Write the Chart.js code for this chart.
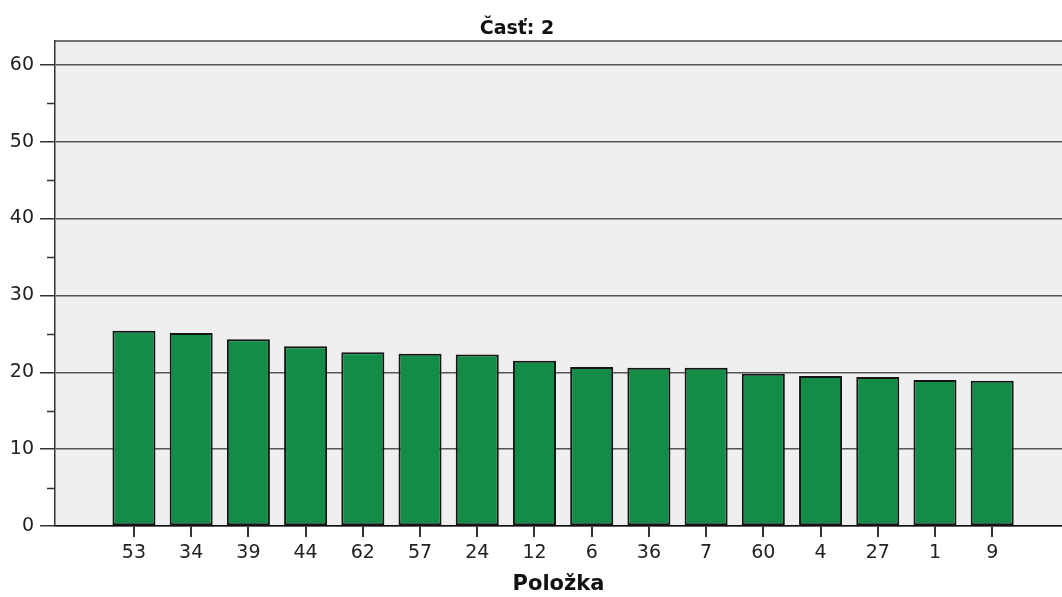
<!DOCTYPE html>
<html>
<head>
<meta charset="utf-8">
<script src="https://cdn.jsdelivr.net/npm/chart.js@4"></script>
<style>
  html, body { margin: 0; padding: 0; background: #fff; overflow: hidden; }
  #wrap { width: 1062px; height: 597px; }
</style>
</head>
<body>
<div id="wrap"><canvas id="castChart"></canvas></div>
<script>
// Údaje z grafu
const polozky = ['53', '34', '39', '44', '62', '57', '24', '12', '6', '36', '7', '60', '4', '27', '1', '9'];
const hodnoty = [25.4, 25.1, 24.3, 23.4, 22.6, 22.4, 22.3, 21.5, 20.7, 20.6, 20.6, 19.8, 19.5, 19.4, 19.0, 18.9];
const yTicky = [0, 10, 20, 30, 40, 50, 60];
const yMensie = [5, 15, 25, 35, 45, 55];

const ctx = document.getElementById('castChart').getContext('2d');

// pozadie a rámik plochy grafu, vedľajšie značky na osi y, nadpis
const plochaPlugin = {
    id: 'plocha',
    beforeDraw(chart) {
        const a = chart.chartArea;
        const c = chart.ctx;
        c.save();
        c.fillStyle = '#efefef';
        c.fillRect(a.left, a.top, a.right - a.left, a.bottom - a.top);
        c.restore();
    },
    afterDraw(chart) {
        const a = chart.chartArea;
        const c = chart.ctx;
        const y = chart.scales.y;
        c.save();
        c.strokeStyle = '#444';
        c.lineWidth = 1.5;
        c.beginPath();
        c.moveTo(a.left, a.top);
        c.lineTo(a.right, a.top);
        c.stroke();
        c.strokeStyle = '#333';
        yMensie.forEach(v => {
            const py = Math.round(y.getPixelForValue(v)) + 0.5;
            c.beginPath();
            c.moveTo(a.left - 8, py);
            c.lineTo(a.left, py);
            c.stroke();
        });
        // nadpis
        c.fillStyle = '#111';
        c.font = 'bold 19px "DejaVu Sans"';
        c.textAlign = 'center';
        c.textBaseline = 'alphabetic';
        c.fillText('Časť: 2', 517, 34);
        c.restore();
    }
};

new Chart(ctx, {
    type: 'bar',
    data: {
        datasets: [{
            data: hodnoty.map((v, i) => ({ x: i, y: v })),
            backgroundColor: '#128c47',
            borderColor: '#151515',
            borderWidth: 2,
            borderSkipped: false,
            categoryPercentage: 0.8,
            barPercentage: 0.94
        }]
    },
    options: {
        responsive: true,
        maintainAspectRatio: false,
        animation: false,
        layout: { padding: { top: 41, right: 0, left: 0, bottom: 0 } },
        plugins: {
            legend: { display: false },
            tooltip: { enabled: false },
            title: { display: false }
        },
        scales: {
            x: {
                type: 'linear',
                min: -1.38,
                max: 16.22,
                offset: false,
                afterBuildTicks: scale => {
                    scale.ticks = polozky.map((p, i) => ({ value: i }));
                },
                afterFit: scale => { scale.height = 71; },
                grid: {
                    offset: false,
                    drawOnChartArea: false,
                    drawTicks: true,
                    tickLength: 11,
                    tickColor: '#333',
                    lineWidth: 2
                },
                border: { color: '#111', width: 1.5 },
                ticks: {
                    autoSkip: false,
                    maxRotation: 0,
                    padding: 5,
                    color: '#222',
                    font: { family: 'DejaVu Sans', size: 19 },
                    callback: v => polozky[v] ?? ''
                },
                title: {
                    display: true,
                    text: 'Položka',
                    color: '#111',
                    font: { family: 'DejaVu Sans', size: 21, weight: 'bold' },
                    padding: { top: 6, bottom: 0 }
                }
            },
            y: {
                min: 0,
                max: 63.1,
                afterFit: scale => { scale.width = 55; },
                afterBuildTicks: scale => {
                    scale.ticks = yTicky.map(v => ({ value: v }));
                },
                grid: {
                    color: '#555',
                    lineWidth: 1.5,
                    tickLength: 15,
                    tickColor: '#333'
                },
                border: { color: '#333', width: 1.5 },
                ticks: {
                    padding: 6,
                    color: '#222',
                    font: { family: 'DejaVu Sans', size: 19 }
                }
            }
        }
    },
    plugins: [plochaPlugin]
});
</script>
</body>
</html>
